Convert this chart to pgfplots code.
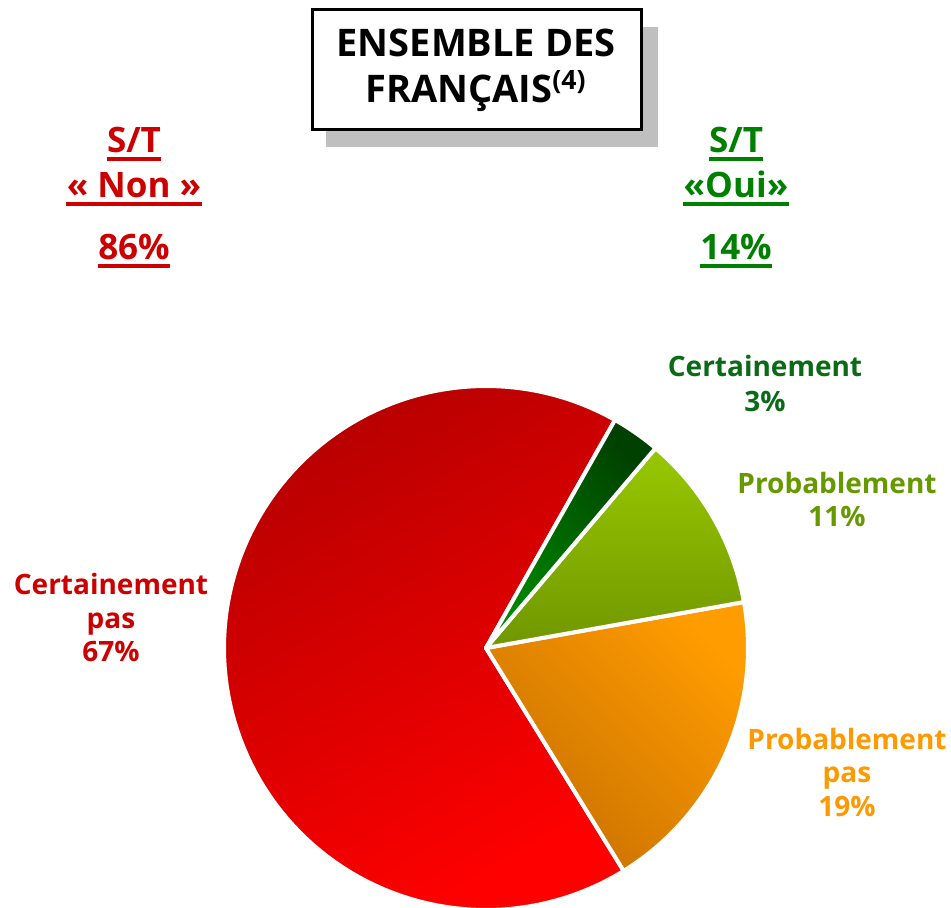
\documentclass[border=0pt]{standalone}
\usepackage{fontspec}
\setmainfont{Open Sans}
\usepackage{pgfplots}
\pgfplotsset{compat=1.18}
\usepackage{pgfplotstable}
\definecolor{rouge}{HTML}{CC0000}
\definecolor{vert}{HTML}{008000}
\definecolor{vertfonce}{HTML}{0A6A16}
\definecolor{olive}{HTML}{669900}
\definecolor{orange}{HTML}{FF9900}
\newcommand\ST{S\kern0pt/T}
\newcommand\lab[5]{%
  \node[text=#4] (#5) at (#2,#3) {#1};
  \draw[#4, line width=2pt] ([yshift=-3pt]#5.base west) -- ([yshift=-3pt]#5.base east);}

\pgfplotstableread{
label value
CertainementPas 67
ProbablementPas 19
Probablement 11
Certainement 3
}\pietable

\pgfplotstablegetelem{0}{value}\of\pietable \let\vA\pgfplotsretval
\pgfplotstablegetelem{1}{value}\of\pietable \let\vB\pgfplotsretval
\pgfplotstablegetelem{2}{value}\of\pietable \let\vC\pgfplotsretval
\pgfplotstablegetelem{3}{value}\of\pietable \let\vD\pgfplotsretval
\pgfmathsetmacro\aA{60.5}
\pgfmathsetmacro\aB{\aA+3.6*\vA}
\pgfmathsetmacro\aC{\aB+3.6*\vB}
\pgfmathsetmacro\aD{\aC+3.6*\vC}
\pgfmathsetmacro\aE{\aD+3.6*\vD}

\begin{document}
\begin{tikzpicture}[x=0.5pt,y=0.5pt]
\useasboundingbox (0,0) rectangle (951,908);

% title box
\fill[gray!50] (326,881) rectangle (658,761);
\draw[line width=1.5pt, fill=white] (312,898) rectangle (641,778);
\node[font=\bfseries\fontsize{19}{23}\selectfont, align=center] at (476,838) {ENSEMBLE DES\\FRAN\c{C}AIS\textsuperscript{(4)}};

% S/T labels
\begin{scope}[every node/.style={anchor=base, inner sep=0pt, font=\bfseries\fontsize{17.5}{21}\selectfont}]
\lab{\ST}{134}{755}{rouge}{n1}
\lab{«~Non~»}{134}{710}{rouge}{n2}
\lab{86\%}{134}{648}{rouge}{n3}
\lab{\ST}{736}{755}{vert}{o1}
\lab{«Oui»}{736}{710}{vert}{o2}
\lab{14\%}{736}{648}{vert}{o3}
\end{scope}

% slice labels
\begin{scope}[every node/.style={anchor=base, inner sep=0pt, font=\bfseries\fontsize{14}{17}\selectfont}]
\node[text=vertfonce] at (765,531) {Certainement};
\node[text=vertfonce] at (765,496) {3\%};
\node[text=olive] at (837,414) {Probablement};
\node[text=olive] at (837,381) {11\%};
\node[text=rouge] at (111,313) {Certainement};
\node[text=rouge] at (111,279) {pas};
\node[text=rouge] at (111,246) {67\%};
\node[text=orange] at (847,158) {Probablement};
\node[text=orange] at (847,125) {pas};
\node[text=orange] at (847,91) {19\%};
\end{scope}

\begin{axis}[at={(243pt,130pt)}, anchor=center, width=262pt, height=262pt,
  scale only axis, hide axis, xmin=-1, xmax=1, ymin=-1, ymax=1, clip=false]
\addplot[draw=white, line width=2pt, line join=round, top color=red!72!black, bottom color=red, shading angle=30,
  domain=\aA:\aB, samples=120] ({cos(x)},{sin(x)}) -- (axis cs:0,0) -- cycle;
\addplot[draw=white, line width=2pt, line join=round, top color={rgb,255:red,255;green,156;blue,0}, bottom color={rgb,255:red,200;green,112;blue,0}, shading angle=-45,
  domain=\aB:\aC, samples=60] ({cos(x)},{sin(x)}) -- (axis cs:0,0) -- cycle;
\addplot[draw=white, line width=2pt, line join=round, top color={rgb,255:red,152;green,200;blue,0}, bottom color={rgb,255:red,112;green,150;blue,0}, shading angle=0,
  domain=\aC:\aD, samples=40] ({cos(x)},{sin(x)}) -- (axis cs:0,0) -- cycle;
\addplot[draw=white, line width=2pt, line join=round, top color={rgb,255:red,0;green,64;blue,0}, bottom color={rgb,255:red,0;green,136;blue,0}, shading angle=-50,
  domain=\aD:\aE, samples=20] ({cos(x)},{sin(x)}) -- (axis cs:0,0) -- cycle;
\end{axis}
\end{tikzpicture}
\end{document}
